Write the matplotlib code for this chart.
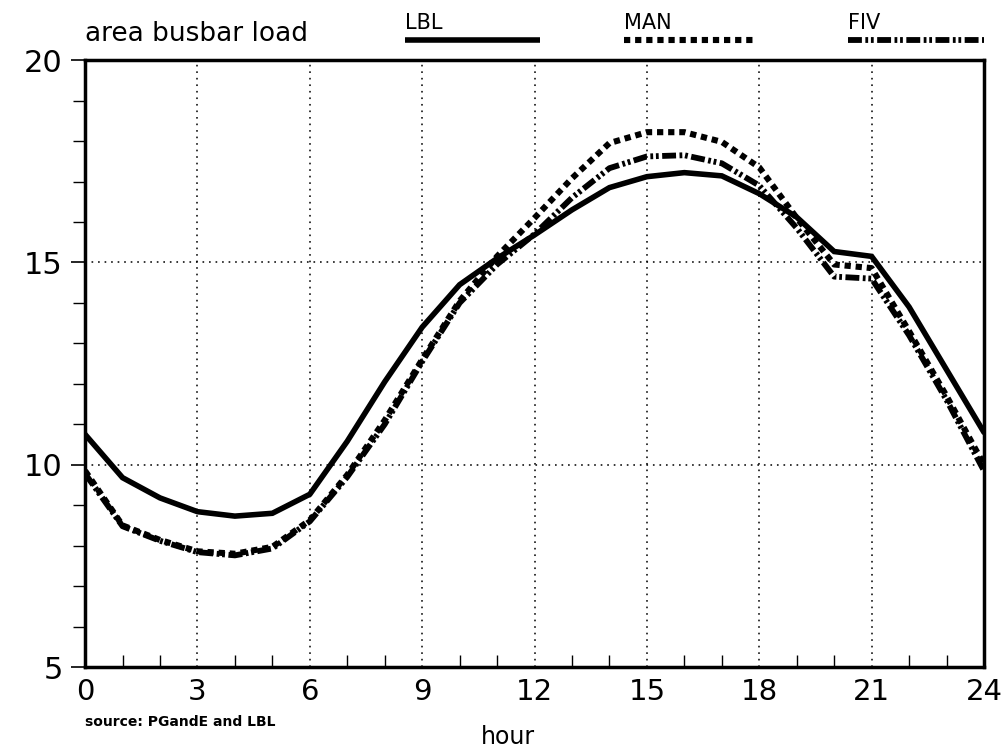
import numpy as np
import matplotlib
matplotlib.use("Agg")
import matplotlib.pyplot as plt
from matplotlib.ticker import MultipleLocator
from matplotlib.transforms import ScaledTranslation

plt.rcParams['lines.scale_dashes'] = False
plt.rcParams['font.family'] = ['DejaVu Sans']

# hourly area busbar load
hours = np.arange(0, 25)
lbl = [10.75, 9.68, 9.18, 8.84, 8.73, 8.80, 9.27, 10.58, 12.05, 13.4, 14.45,
       15.1, 15.68, 16.3, 16.85, 17.12, 17.22, 17.14, 16.7, 16.12, 15.27,
       15.15, 13.9, 12.35, 10.8]
man = [9.85, 8.5, 8.14, 7.86, 7.8, 7.97, 8.63, 9.75, 11.1, 12.6, 14.05,
       15.15, 16.1, 17.08, 17.95, 18.22, 18.22, 17.98, 17.35, 16.1, 14.95,
       14.86, 13.3, 11.7, 10.0]
fiv = [9.78, 8.48, 8.12, 7.84, 7.76, 7.93, 8.6, 9.7, 11.0, 12.55, 14.0,
       14.95, 15.7, 16.6, 17.33, 17.62, 17.65, 17.45, 16.9, 15.85, 14.65,
       14.6, 13.2, 11.6, 9.85]

names = ['LBL', 'MAN', 'FIV']
series = [lbl, man, fiv]
styles = ['-', (0, (4.5, 3.5)), (0, (10, 2.5, 2, 2, 2, 2.5))]
widths = [4.0, 4.4, 4.2]
capstyles = ['round', 'butt', 'butt']

fig = plt.figure(figsize=(10.01, 7.52), dpi=100)
ax = fig.add_axes([0.085, 0.113, 0.898, 0.807])

for vals, ls, lw, cs in zip(series, styles, widths, capstyles):
    ax.plot(hours, vals, color='black', linestyle=ls, linewidth=lw,
            solid_capstyle=cs, dash_capstyle=cs, solid_joinstyle='miter')

ax.set_xlim(0, 24)
ax.set_ylim(5, 20)
ax.xaxis.set_major_locator(MultipleLocator(3))
ax.xaxis.set_minor_locator(MultipleLocator(1))
ax.yaxis.set_major_locator(MultipleLocator(5))
ax.yaxis.set_minor_locator(MultipleLocator(1))

ax.grid(True, which='major', color='black', linestyle=(0, (1.2, 3.5)), linewidth=1.1)
for s in ax.spines.values():
    s.set_linewidth(2.5)

ax.tick_params(axis='x', which='major', direction='in', length=0, pad=8,
               labelsize=21)
ax.tick_params(axis='x', which='minor', direction='in', length=9, width=1)
ax.tick_params(axis='y', which='major', direction='out', length=10, width=1.2,
               pad=6, labelsize=22)
ax.tick_params(axis='y', which='minor', direction='out', length=9, width=1)

# pull the "24" label in so it stays on the canvas
last = ax.xaxis.get_major_ticks()[-1].label1
last.set_transform(last.get_transform() +
                   ScaledTranslation(-5 / 72, 0, fig.dpi_scale_trans))

# legend: name above a short sample of each line style
legend_x = [(0.356, 0.506), (0.600, 0.745), (0.849, 1.0)]
for name, (x0, x1), ls, lw, cs in zip(names, legend_x, styles, widths, capstyles):
    ax.plot([x0, x1], [1.033, 1.033], transform=ax.transAxes, clip_on=False,
            color='black', linestyle=ls, linewidth=lw,
            solid_capstyle='butt', dash_capstyle=cs)
    ax.text(x0, 1.045, name, transform=ax.transAxes, fontsize=15,
            ha='left', va='bottom')

ax.text(0.0, 1.022, 'area busbar load', transform=ax.transAxes, fontsize=19,
        fontweight='medium', ha='left', va='bottom')

fig.text(0.085, 0.03, 'source: PGandE and LBL', fontsize=10, fontweight='bold',
         ha='left', va='bottom')
fig.text(0.507, 0.004, 'hour', fontsize=17, fontweight='medium',
         ha='center', va='bottom')

fig.savefig('out.png', dpi=100)
